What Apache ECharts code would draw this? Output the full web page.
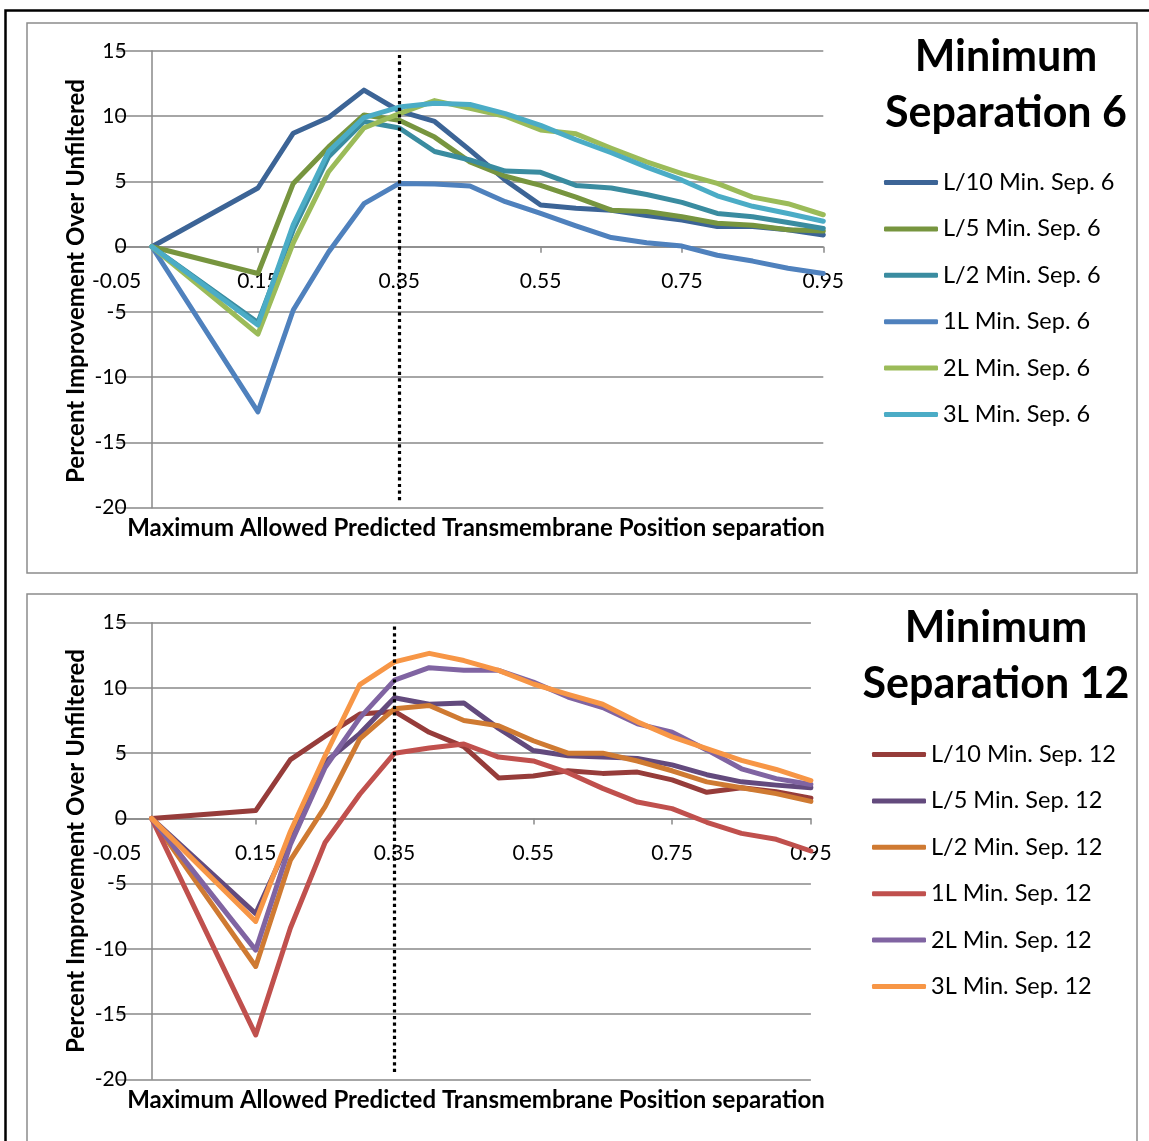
<!DOCTYPE html>
<html>
<head>
<meta charset="utf-8">
<script src="https://cdn.jsdelivr.net/npm/echarts@6/dist/echarts.min.js"></script>
<style>
  html, body { margin: 0; padding: 0; background: #fff; }
  #chart { width: 1149px; height: 1141px; }
</style>
</head>
<body>
<div id="chart"></div>
<script>
// Filter threshold (maximum allowed predicted TM position separation)
const xValues = [0, 0.15, 0.2, 0.25, 0.3, 0.35, 0.4, 0.45, 0.5, 0.55, 0.6, 0.65, 0.7, 0.75, 0.8, 0.85, 0.9, 0.95];

// Minimum separation 6
const sep6Names = ['L/10 Min. Sep. 6', 'L/5 Min. Sep. 6', 'L/2 Min. Sep. 6', '1L Min. Sep. 6', '2L Min. Sep. 6', '3L Min. Sep. 6'];
const sep6L10 = [0, 4.5, 8.7, 9.9, 12.0, 10.4, 9.6, 7.4, 5.1, 3.2, 2.95, 2.8, 2.4, 2.05, 1.55, 1.55, 1.3, 0.9];
const sep6L5  = [0, -2.05, 4.85, 7.65, 10.1, 9.7, 8.4, 6.5, 5.4, 4.7, 3.8, 2.8, 2.7, 2.3, 1.8, 1.65, 1.3, 1.2];
const sep6L2  = [0, -5.8, 1.3, 6.9, 9.6, 9.1, 7.3, 6.65, 5.8, 5.7, 4.7, 4.5, 4.0, 3.4, 2.55, 2.3, 1.85, 1.4];
const sep61L  = [0, -12.65, -4.85, -0.4, 3.3, 4.85, 4.8, 4.65, 3.45, 2.55, 1.6, 0.7, 0.3, 0.05, -0.65, -1.1, -1.65, -2.05];
const sep62L  = [0, -6.7, 0.3, 5.75, 9.1, 10.2, 11.2, 10.6, 10.0, 8.95, 8.65, 7.55, 6.5, 5.6, 4.85, 3.8, 3.3, 2.45];
const sep63L  = [0, -6.0, 1.7, 7.3, 9.9, 10.7, 11.0, 10.9, 10.2, 9.3, 8.2, 7.2, 6.1, 5.1, 3.9, 3.1, 2.55, 1.95];
const sep6Colors = ['#3C6496', '#77953F', '#3A8CA0', '#4F81BD', '#9BBB59', '#4BACC6'];

// Minimum separation 12
const sep12Names = ['L/10 Min. Sep. 12', 'L/5 Min. Sep. 12', 'L/2 Min. Sep. 12', '1L Min. Sep. 12', '2L Min. Sep. 12', '3L Min. Sep. 12'];
const sep12L10 = [0, 0.6, 4.5, 6.3, 8.0, 8.2, 6.6, 5.5, 3.1, 3.25, 3.65, 3.45, 3.55, 2.95, 2.0, 2.35, 2.05, 1.55];
const sep12L5  = [0, -7.3, -1.5, 4.3, 6.5, 9.25, 8.75, 8.85, 6.9, 5.2, 4.8, 4.7, 4.6, 4.1, 3.35, 2.8, 2.55, 2.35];
const sep12L2  = [0, -11.35, -3.2, 0.9, 6.1, 8.4, 8.65, 7.5, 7.1, 5.95, 5.0, 5.0, 4.4, 3.65, 2.8, 2.35, 1.9, 1.3];
const sep121L  = [0, -16.6, -8.4, -1.85, 1.85, 5.0, 5.4, 5.7, 4.7, 4.4, 3.5, 2.3, 1.25, 0.75, -0.3, -1.15, -1.6, -2.5];
const sep122L  = [0, -10.1, -2.0, 3.9, 7.7, 10.6, 11.55, 11.35, 11.35, 10.45, 9.3, 8.5, 7.25, 6.6, 5.25, 3.8, 3.05, 2.6];
const sep123L  = [0, -7.9, -1.0, 4.8, 10.25, 12.0, 12.65, 12.1, 11.35, 10.3, 9.5, 8.75, 7.4, 6.25, 5.35, 4.45, 3.75, 2.9];
const sep12Colors = ['#963C3A', '#634A7D', '#CF7A32', '#C0504D', '#8064A2', '#F79646'];

// Axis settings
const xMin = -0.05, xMax = 0.95, xStep = 0.2;
const yMin = -20, yMax = 15, yStep = 5;
// Reference cutoff drawn as a dotted vertical line
const cutoff = 0.35;
const cutoffTop = 14.7, cutoffBottom = -19.45;

const xTitle = 'Maximum Allowed Predicted Transmembrane Position separation';
const yTitle = 'Percent Improvement Over Unfiltered';

const FONT = 'Lato, "Open Sans", sans-serif';
const GRID_GRAY = '#898989';

function pairs(values) {
  return xValues.map((x, i) => [x, values[i]]);
}

function buildSeries(names, valueSets, colors, gridIdx) {
  return names.map((name, i) => {
    const s = {
      name: name,
      type: 'line',
      xAxisIndex: gridIdx,
      yAxisIndex: gridIdx,
      data: pairs(valueSets[i]),
      symbol: 'none',
      showSymbol: false,
      color: colors[i],
      lineStyle: { width: 5, color: colors[i], cap: 'round', join: 'round' },
      emphasis: { disabled: true },
      z: 3
    };
    if (i === 0) {
      s.markLine = {
        silent: true,
        symbol: ['none', 'none'],
        label: { show: false },
        lineStyle: { color: '#000', width: 3.2, type: [3.2, 3.4] },
        data: [[{ coord: [cutoff, cutoffTop] }, { coord: [cutoff, cutoffBottom] }]],
        z: 5
      };
    }
    return s;
  });
}

// Both axes cross at zero; labels are shifted back next to the crossing lines
function xAxisFor(gridIdx) {
  return {
    gridIndex: gridIdx,
    type: 'value',
    min: xMin,
    max: xMax,
    interval: xStep,
    axisLine: { show: true, onZero: true, lineStyle: { color: GRID_GRAY, width: 1.5 } },
    axisTick: { show: true, length: 6, lineStyle: { color: GRID_GRAY, width: 1.5 } },
    axisLabel: {
      margin: -237,
      color: '#000',
      fontSize: 21,
      fontFamily: FONT,
      formatter: v => v.toFixed(2)
    },
    splitLine: { show: false }
  };
}

function yAxisFor(gridIdx) {
  return {
    gridIndex: gridIdx,
    type: 'value',
    min: yMin,
    max: yMax,
    interval: yStep,
    axisLine: { show: true, onZero: true, lineStyle: { color: GRID_GRAY, width: 1.5 } },
    axisTick: { show: false },
    axisLabel: { margin: -10, color: '#000', fontSize: 21, fontFamily: FONT },
    splitLine: { show: true, lineStyle: { color: GRID_GRAY, width: 1.5 } }
  };
}

function legendFor(names, left, top) {
  return {
    data: names,
    orient: 'vertical',
    left: left,
    top: top,
    padding: 0,
    icon: 'roundRect',
    itemWidth: 54,
    itemHeight: 5,
    itemGap: 19.4,
    selectedMode: false,
    textStyle: { fontSize: 23.5, fontFamily: FONT, color: '#000', lineHeight: 27 }
  };
}

function titleText(text, x, y, size) {
  return {
    type: 'text',
    x: x, y: y,
    silent: true,
    style: {
      text: text,
      fill: '#000',
      font: 'bold ' + size + 'px ' + FONT,
      align: 'center',
      verticalAlign: 'middle'
    }
  };
}

function yTitleText(cx, cy) {
  return {
    type: 'text',
    x: cx, y: cy,
    rotation: Math.PI / 2,
    silent: true,
    style: {
      text: yTitle,
      fill: '#000',
      font: 'bold 24px ' + FONT,
      align: 'center',
      verticalAlign: 'middle'
    }
  };
}

function frame(x, y, w, h, color, width) {
  return {
    type: 'rect',
    silent: true,
    shape: { x: x, y: y, width: w, height: h },
    style: { fill: 'none', stroke: color, lineWidth: width },
    z: -1
  };
}

const chart = echarts.init(document.getElementById('chart'), null, { renderer: 'canvas' });

chart.setOption({
  animation: false,
  backgroundColor: '#fff',
  grid: [
    { left: 116.6, top: 51, width: 706.7, height: 456.7 },
    { left: 116.9, top: 622.7, width: 694, height: 456.6 }
  ],
  xAxis: [xAxisFor(0), xAxisFor(1)],
  yAxis: [yAxisFor(0), yAxisFor(1)],
  legend: [
    legendFor(sep6Names, 884, 169),
    legendFor(sep12Names, 872, 741)
  ],
  graphic: [
    frame(5.5, 10.5, 1300, 1300, '#000', 2.5),
    frame(27, 23, 1110, 550, '#8c8c8c', 1.5),
    frame(27, 594, 1110, 700, '#8c8c8c', 1.5),
    titleText('Minimum', 1006, 57, 43),
    titleText('Separation 6', 1006, 113, 43),
    titleText('Minimum', 996, 628, 43),
    titleText('Separation 12', 996, 684, 43),
    titleText(xTitle, 476, 528, 24),
    titleText(xTitle, 476, 1100, 24),
    yTitleText(76, 281),
    yTitleText(76, 851)
  ],
  series: [].concat(
    buildSeries(sep6Names, [sep6L10, sep6L5, sep6L2, sep61L, sep62L, sep63L], sep6Colors, 0),
    buildSeries(sep12Names, [sep12L10, sep12L5, sep12L2, sep121L, sep122L, sep123L], sep12Colors, 1)
  )
});
</script>
</body>
</html>
